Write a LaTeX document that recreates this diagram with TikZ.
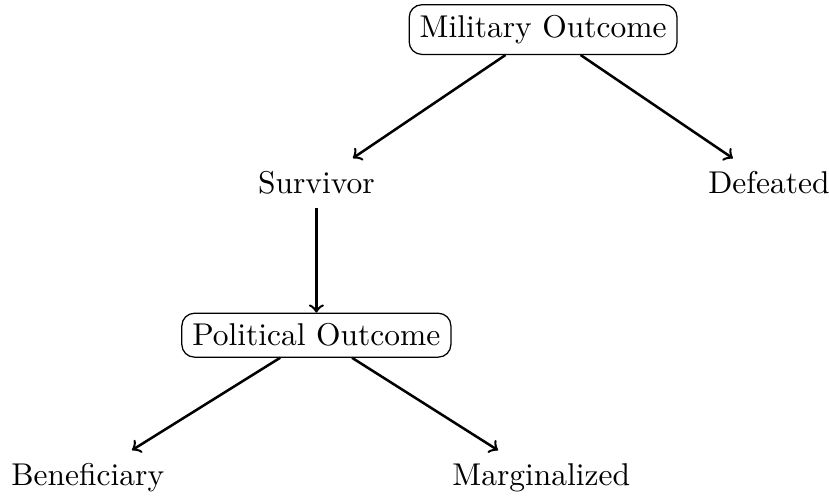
\documentclass[tikz,border=0pt]{standalone}
\usetikzlibrary{positioning, arrows}

\begin{document}
\begin{tikzpicture}
  \tikzset{
    outcome/.style={
      draw,
      rounded corners=4pt,
      anchor=center
    },
    result/.style={
      anchor=center,
      inner sep=4pt
    },
    branch/.style={
      ->,
      thick
    }
  }

  % Fix the canvas
  \useasboundingbox (0,0) rectangle (9.25,-5.57);

  % Draw the outcome boxes
    \node[outcome] at (6.06, -0.33) (military) {Military Outcome};
    \node[outcome] at (3.53, -3.74) (political) {Political Outcome};

  % Draw the results
    \node[result] at (3.53, -2.04) (survivor) {Survivor};
    \node[result] at (8.58, -2.04) (defeated) {Defeated};
    \node[result] at (0.98, -5.33) (beneficiary) {Beneficiary};
    \node[result] at (6.04, -5.33) (marginalized) {Marginalized};

  % Draw the branches
    \draw[branch] (military) -- (survivor);
    \draw[branch] (military) -- (defeated);
    \draw[branch] (survivor) -- (political);
    \draw[branch] (political) -- (beneficiary);
    \draw[branch] (political) -- (marginalized);

\end{tikzpicture}
\end{document}
